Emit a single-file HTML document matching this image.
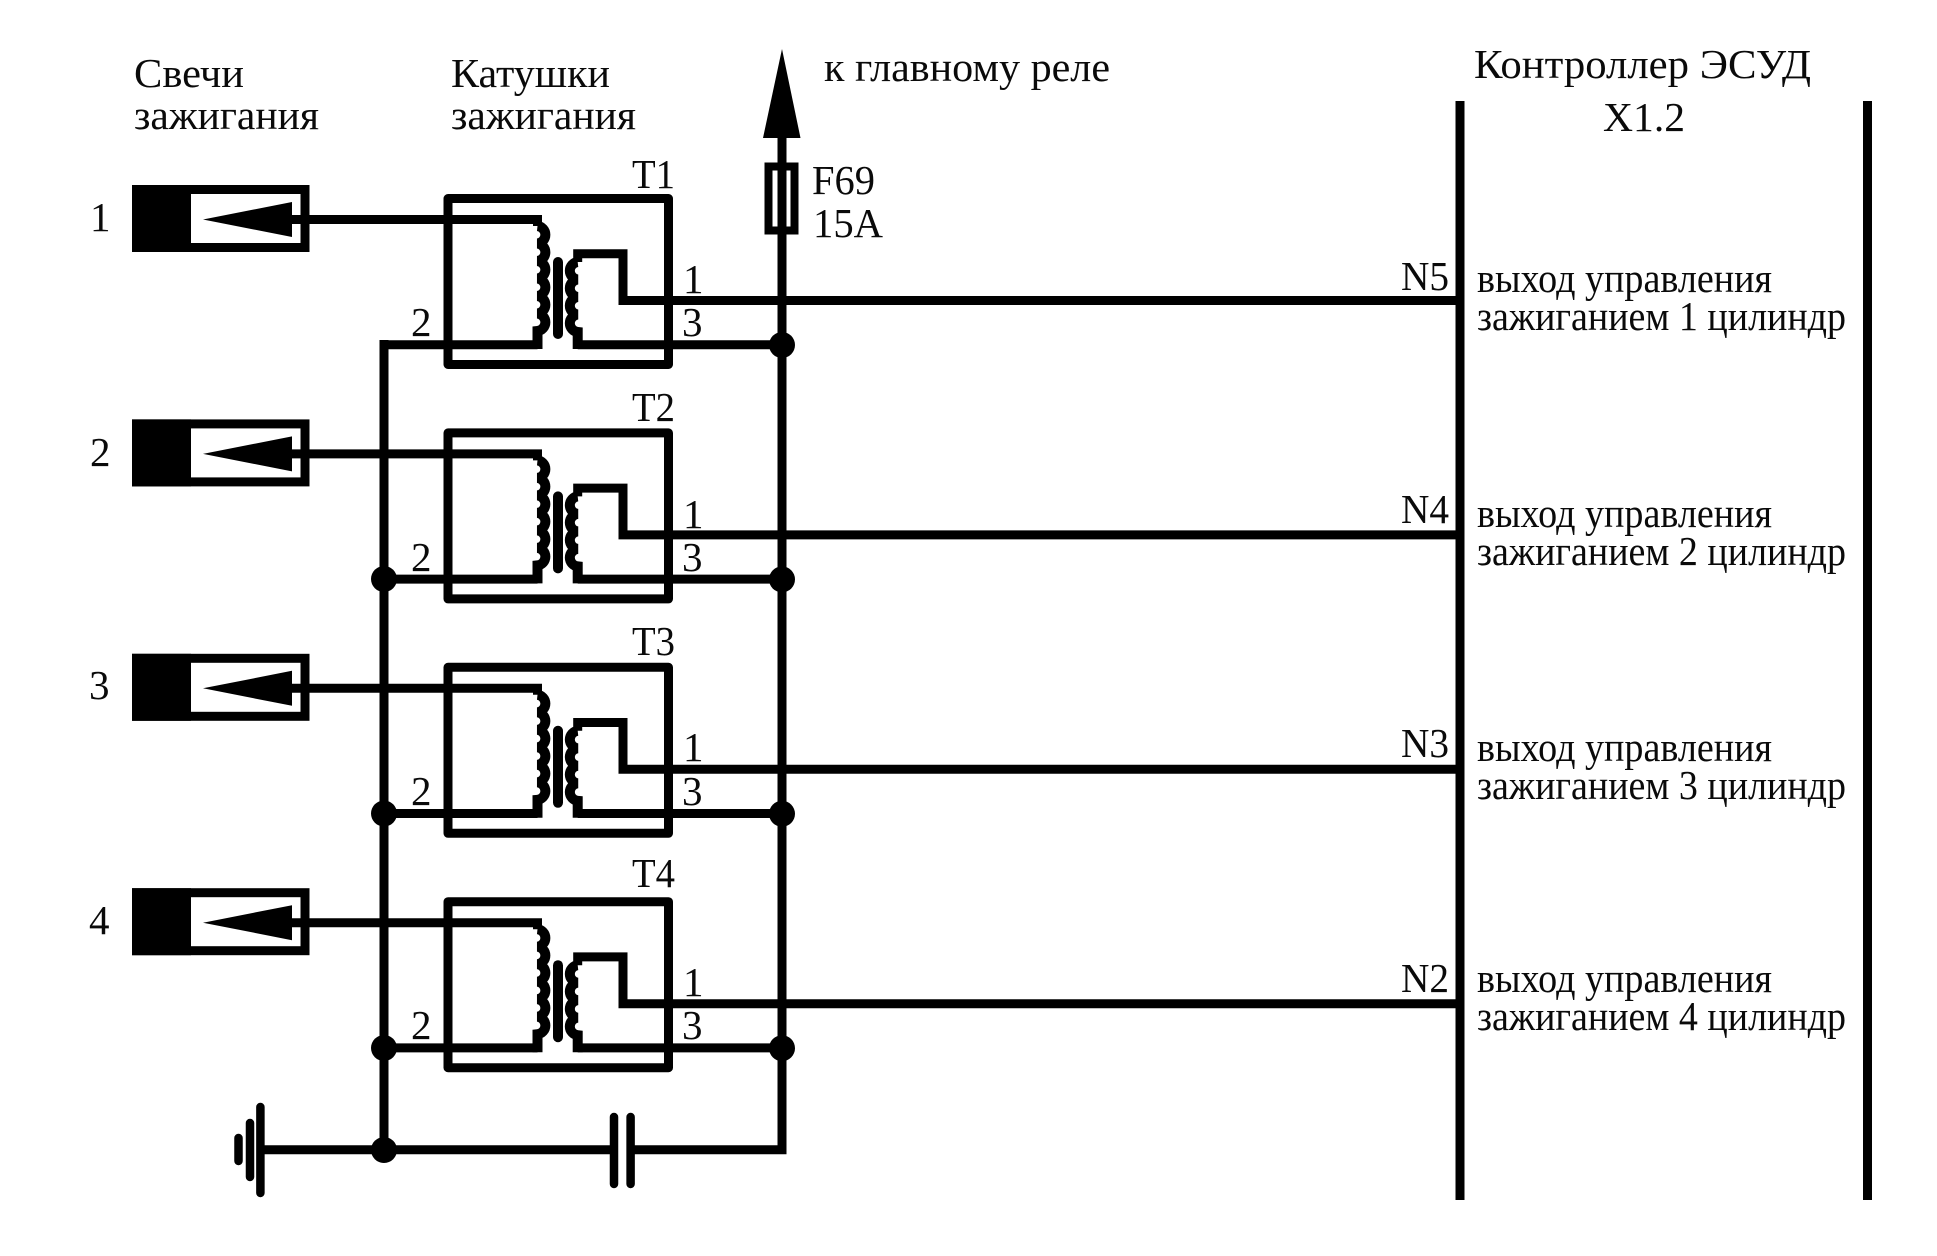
<!DOCTYPE html>
<html><head><meta charset="utf-8"><style>
html,body{margin:0;padding:0;background:#fff}
svg{display:block}
text{font-family:"Liberation Serif","Noto Serif CJK SC",serif;fill:#0a0a0a;font-size:41px}
</style></head><body>
<svg width="1937" height="1256" viewBox="0 0 1937 1256" xmlns="http://www.w3.org/2000/svg">
<defs>
<g id="row" fill="none" stroke="#000" stroke-width="9">
<rect x="136.500" y="189.500" width="168.500" height="58"/>
<rect x="132" y="185" width="59" height="67" fill="#000" stroke="none"/>
<polygon points="203,219.500 292,202 292,237" fill="#000" stroke="none"/>
<path d="M290 219.500H537.500V226"/>
<rect x="448" y="198.500" width="220.500" height="166" stroke-linejoin="round"/>
<path d="M537.500 344.700H384"/>
<path d="M537.500 226a8.800 8.800 0 0 1 0 17.500a8.800 8.800 0 0 1 0 17.500a8.800 8.800 0 0 1 0 17.500a8.800 8.800 0 0 1 0 17.500a8.800 8.800 0 0 1 0 17.500a8.800 8.800 0 0 1 0 17.500V349" stroke-width="10"/>
<path d="M558 262V334" stroke-width="10" stroke-linecap="round"/>
<path d="M577.700 262a8.800 8.800 0 0 0 0 17.500a8.800 8.800 0 0 0 0 17.500a8.800 8.800 0 0 0 0 17.500a8.800 8.800 0 0 0 0 17.500V349" stroke-width="10"/>
<path d="M577.700 344.700H782"/>
<path d="M577.700 262V253.700H623V300.500H1459"/>
<circle cx="782" cy="345" r="13" fill="#000" stroke="none"/>
</g>
</defs>
<g fill="none" stroke="#000">
<path d="M1460 101V1200M1867.500 101V1200" stroke-width="9"/>
<path d="M384 340V1150M782 130V1149.700H631M614 1149.700H260" stroke-width="9"/>
<path d="M768.500 166.500h26v64h-26z" stroke-width="8"/>
<path d="M260.400 1107V1193M250 1123V1177M238.500 1138V1161M614 1117V1184M630.600 1117V1184" stroke-width="8.500" stroke-linecap="round"/>
</g>
<polygon points="782,49 800.500,138 763,138" fill="#000"/>
<use href="#row"/>
<use href="#row" y="234.400"/>
<use href="#row" y="468.800"/>
<use href="#row" y="703.200"/>
<g fill="#000">
<circle cx="384" cy="579" r="13"/><circle cx="384" cy="813.500" r="13"/><circle cx="384" cy="1048" r="13"/><circle cx="384" cy="1150" r="13"/>
</g>
<g>
<text x="134" y="87" textLength="110" lengthAdjust="spacingAndGlyphs">Свечи</text>
<text x="134" y="129" textLength="185" lengthAdjust="spacingAndGlyphs">зажигания</text>
<text x="451" y="87" textLength="159" lengthAdjust="spacingAndGlyphs">Катушки</text>
<text x="451" y="129" textLength="185" lengthAdjust="spacingAndGlyphs">зажигания</text>
<text x="824" y="81" textLength="286" lengthAdjust="spacingAndGlyphs">к главному реле</text>
<text x="1474" y="78" textLength="337" lengthAdjust="spacingAndGlyphs">Контроллер ЭСУД</text>
<text x="1603" y="131" textLength="82" lengthAdjust="spacingAndGlyphs">X1.2</text>
<text x="812" y="194" textLength="63" lengthAdjust="spacingAndGlyphs">F69</text>
<text x="813" y="237" textLength="70" lengthAdjust="spacingAndGlyphs">15A</text>

<text x="90" y="231">1</text><text x="90" y="466">2</text><text x="89" y="699">3</text><text x="89" y="934">4</text>
<text x="632" y="188" textLength="43" lengthAdjust="spacingAndGlyphs">T1</text><text x="632" y="421" textLength="43" lengthAdjust="spacingAndGlyphs">T2</text><text x="632" y="655" textLength="43" lengthAdjust="spacingAndGlyphs">T3</text><text x="632" y="887" textLength="43" lengthAdjust="spacingAndGlyphs">T4</text>

<text x="683" y="293">1</text><text x="683" y="528">1</text><text x="683" y="761">1</text><text x="683" y="996">1</text>
<text x="682" y="336">3</text><text x="682" y="571">3</text><text x="682" y="805">3</text><text x="682" y="1039">3</text>
<text x="411" y="336">2</text><text x="411" y="571">2</text><text x="411" y="805">2</text><text x="411" y="1039">2</text>

<text x="1401" y="290" textLength="48" lengthAdjust="spacingAndGlyphs">N5</text><text x="1401" y="523" textLength="48" lengthAdjust="spacingAndGlyphs">N4</text><text x="1401" y="757" textLength="48" lengthAdjust="spacingAndGlyphs">N3</text><text x="1401" y="992" textLength="48" lengthAdjust="spacingAndGlyphs">N2</text>

<text x="1477" y="292" textLength="295" lengthAdjust="spacingAndGlyphs">выход управления</text>
<text x="1477" y="330" textLength="369" lengthAdjust="spacingAndGlyphs">зажиганием 1 цилиндр</text>
<text x="1477" y="527" textLength="295" lengthAdjust="spacingAndGlyphs">выход управления</text>
<text x="1477" y="565" textLength="369" lengthAdjust="spacingAndGlyphs">зажиганием 2 цилиндр</text>
<text x="1477" y="761" textLength="295" lengthAdjust="spacingAndGlyphs">выход управления</text>
<text x="1477" y="799" textLength="369" lengthAdjust="spacingAndGlyphs">зажиганием 3 цилиндр</text>
<text x="1477" y="992" textLength="295" lengthAdjust="spacingAndGlyphs">выход управления</text>
<text x="1477" y="1030" textLength="369" lengthAdjust="spacingAndGlyphs">зажиганием 4 цилиндр</text>
</g>
</svg>
</body></html>
